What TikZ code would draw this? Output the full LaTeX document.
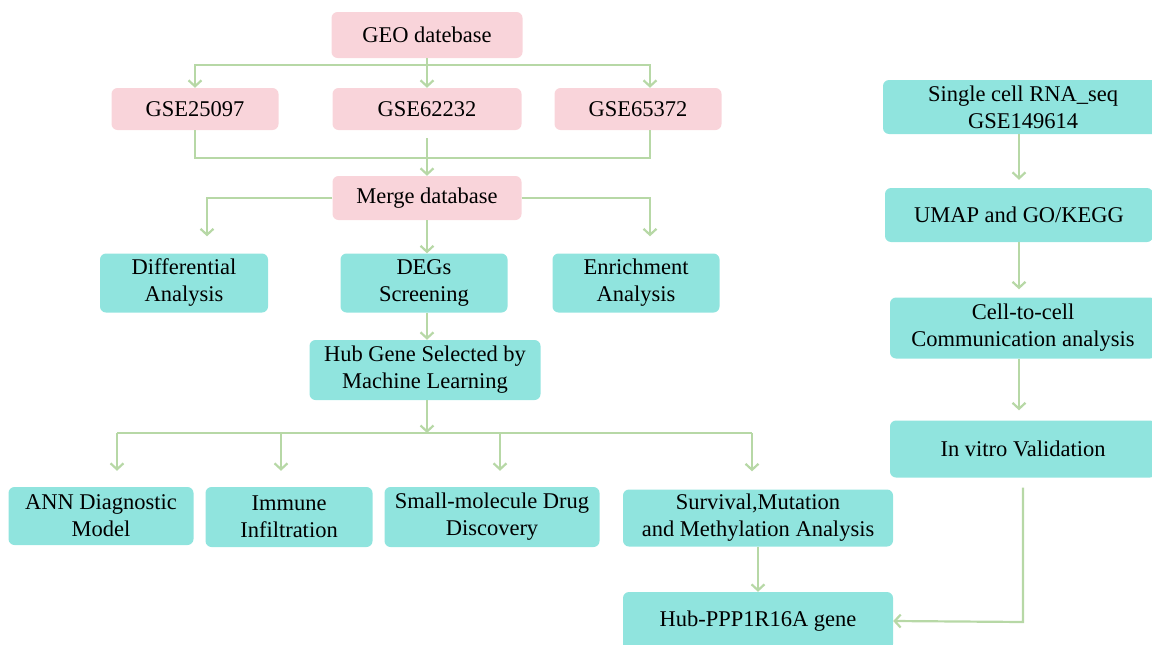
\documentclass[tikz,border=0pt]{standalone}
\usepackage{fontspec}
\setmainfont{Liberation Serif}
\usetikzlibrary{positioning}
\usetikzlibrary{calc}
\usetikzlibrary{arrows.meta}
\definecolor{pinkfill}{HTML}{F9D4DA}
\definecolor{tealfill}{HTML}{90E4DE}
\definecolor{arrowgreen}{HTML}{B7D8A6}

\begin{document}
\begin{tikzpicture}[x=1pt, y=-1pt,
    box/.style={rounded corners=6pt, align=center, inner sep=0pt, font=\fontsize{22.5}{27}\selectfont},
    pinkbox/.style={box, fill=pinkfill},
    tealbox/.style={box, fill=tealfill},
    line/.style={arrowgreen, line width=2.2pt},
    arr/.style={line, -{Straight Barb[length=6pt, width=13pt]}}]
    \useasboundingbox (0,0) rectangle (1152,645);

    % bulk data
    \node[pinkbox, minimum width=191pt, minimum height=46pt] (geo) at (427,35) {GEO datebase};
    \node[pinkbox, minimum width=167pt, minimum height=42pt] (gse1) at (195,109) {GSE25097};
    \node[pinkbox, minimum width=189pt, minimum height=42pt] (gse2) at (427,109) {GSE62232};
    \node[pinkbox, minimum width=167pt, minimum height=42pt] (gse3) at (638,109) {GSE65372};
    \node[pinkbox, minimum width=189pt, minimum height=44pt] (merge) at (427,198) {Merge database};

    \node[tealbox, minimum width=168pt, minimum height=59pt] (diff) at (184,283) {Differential\\Analysis};
    \node[tealbox, minimum width=167pt, minimum height=59pt] (degs) at (424,283) {DEGs\\Screening};
    \node[tealbox, minimum width=167pt, minimum height=59pt] (enrich) at (636,283) {Enrichment\\Analysis};
    \node[tealbox, minimum width=231pt, minimum height=60pt] (hub) at (425,370) {Hub Gene Selected by\\Machine Learning};

    \node[tealbox, minimum width=185pt, minimum height=58pt] (ann) at (101,516) {ANN Diagnostic\\Model};
    \node[tealbox, minimum width=167pt, minimum height=60pt] (immune) at (289,517) {Immune\\Infiltration};
    \node[tealbox, minimum width=215pt, minimum height=60pt] (drug) at (492,517) {Small-molecule Drug\\Discovery};
    \node[tealbox, minimum width=270pt, minimum height=57pt] (surv) at (758,518) {Survival,Mutation\\and Methylation Analysis};
    \node[tealbox, minimum width=270pt, minimum height=58pt] (gene) at (758,621) {Hub-PPP1R16A gene};

    % single cell
    \node[tealbox, minimum width=280pt, minimum height=54pt] (single) at (1023,107) {Single cell RNA\_seq\\GSE149614};
    \node[tealbox, minimum width=268pt, minimum height=54pt] (umap) at (1019,215) {UMAP and GO/KEGG};
    \node[tealbox, minimum width=266pt, minimum height=61pt] (comm) at (1023,328) {Cell-to-cell\\Communication analysis};
    \node[tealbox, minimum width=266pt, minimum height=57pt] (vitro) at (1023,449) {In vitro Validation};

    \coordinate (t1) at (427,65);
    \coordinate (j1) at (427,158);
    \coordinate (b0) at (427,433);
    \coordinate (b1) at (117,433);
    \coordinate (b2) at (281,433);
    \coordinate (b3) at (500,433);
    \coordinate (b4) at (752,433);
    \coordinate (c1) at (1023,622);

    \draw[arr] (geo.south) -- (gse2.north);
    \draw[arr] (t1) -| (gse1.north);
    \draw[arr] (t1) -| ([xshift=12pt]gse3.north);
    \draw[line] (gse1.south) |- (j1) -| ([xshift=12pt]gse3.south);
    \draw[arr] ([yshift=-8pt]gse2.south) -- (merge.north);

    \draw[arr, shorten >=17pt] (merge.west) -| ([xshift=23pt]diff.north);
    \draw[arr, shorten >=17pt] (merge.east) -| ([xshift=14pt]enrich.north);
    \draw[arr] (merge.south) -- (merge.south |- degs.north);
    \draw[arr] (merge.south |- degs.south) -- (merge.south |- hub.north);

    \draw[arr] (merge.south |- hub.south) -- (b0);
    \draw[line] (b1) -- (b4);
    \draw[arr, shorten >=16pt] (b1) -- (b1 |- ann.north);
    \draw[arr, shorten >=16pt] (b2) -- (b2 |- immune.north);
    \draw[arr, shorten >=16pt] (b3) -- (b3 |- drug.north);
    \draw[arr, shorten >=18pt] (b4) -- (b4 |- surv.north);
    \draw[arr] (surv.south) -- (gene.north);

    \draw[arr, shorten >=8pt] (single.south -| umap) -- (umap.north);
    \draw[arr, shorten >=8pt] (umap.south) -- (umap.south |- comm.north);
    \draw[arr, shorten >=10pt] (umap.south |- comm.south) -- (umap.south |- vitro.north);
    \draw[arr] ([yshift=-10pt]vitro.south) -- (c1) -- (gene.east);
\end{tikzpicture}
\end{document}
